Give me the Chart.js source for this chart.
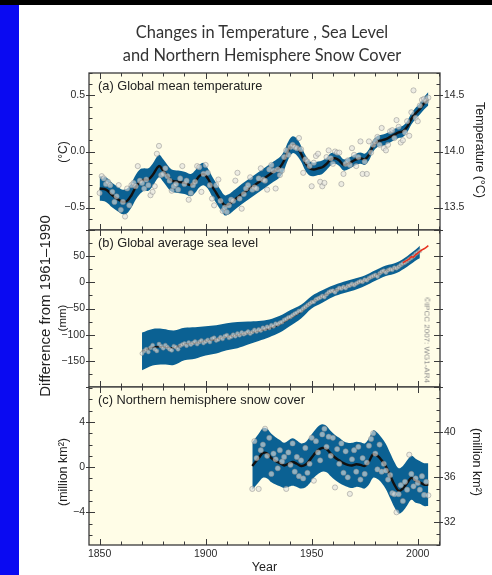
<!DOCTYPE html>
<html>
<head>
<meta charset="utf-8">
<script src="https://cdn.jsdelivr.net/npm/chart.js@4.4.0/dist/chart.umd.min.js"></script>
<style>
  html, body { margin: 0; padding: 0; background: #fff; }
  #page { position: relative; width: 492px; height: 575px; overflow: hidden; background: #fff;
          font-family: "Liberation Sans", Arial, sans-serif; color: #2a2a2a; }
  #page canvas { position: absolute; left: 0; top: 0; }
  .bar-top { position: absolute; left: 0; top: 0; width: 492px; height: 5px; background: #000; }
  .bar-side { position: absolute; left: 0; top: 5px; width: 19px; height: 570px; background: #0a0af2; }
  .title { position: absolute; left: 262px; white-space: nowrap; transform: translate(-50%, -50%);
           font-family: Lato, "Open Sans", sans-serif; font-size: 16.4px; color: #333; }
  .plabel { position: absolute; left: 98px; white-space: nowrap; transform: translateY(-50%);
            font-size: 12.8px; color: #222; }
  .rot { position: absolute; white-space: nowrap; transform: translate(-50%, -50%) rotate(-90deg); color: #222; }
  .rotcw { position: absolute; white-space: nowrap; transform: translate(-50%, -50%) rotate(90deg); color: #222; }
</style>
</head>
<body>
<div id="page">
  <div class="bar-top"></div>
  <div class="bar-side"></div>

  <canvas id="tempChart" width="492" height="575"></canvas>
  <canvas id="seaChart" width="492" height="575"></canvas>
  <canvas id="snowChart" width="492" height="575"></canvas>

  <div class="title" style="top:31px">Changes in Temperature , Sea Level</div>
  <div class="title" style="top:54px">and Northern Hemisphere Snow Cover</div>

  <div class="plabel" style="top:85px">(a) Global mean temperature</div>
  <div class="plabel" style="top:242px">(b) Global average sea level</div>
  <div class="plabel" style="top:399px">(c) Northern hemisphere snow cover</div>

  <div class="rot" style="left:44px; top:306px; font-size:15px">Difference from 1961–1990</div>
  <div class="rot" style="left:63px; top:152px; font-size:12px">(°C)</div>
  <div class="rot" style="left:62px; top:318px; font-size:11.5px">(mm)</div>
  <div class="rot" style="left:63px; top:472px; font-size:12.5px">(million km²)</div>
  <div class="rotcw" style="left:480px; top:150px; font-size:12.5px">Temperature (°C)</div>
  <div class="rotcw" style="left:477px; top:462px; font-size:12.5px">(million km²)</div>
  <div class="rotcw" style="left:427px; top:340px; font-size:8px; color:#8a8a8a">©IPCC 2007: WG1-AR4</div>
</div>

<script>
// ---------------- data ----------------
// (a) global mean temperature, annual anomalies (°C) 1850–2005
const tempStartYear = 1850;
const tempAnnual = [
  -0.37,-0.22,-0.24,-0.29,-0.27,-0.30,-0.36,-0.45,-0.40,-0.30,
  -0.52,-0.45,-0.58,-0.33,-0.48,-0.30,-0.28,-0.31,-0.13,-0.26,
  -0.28,-0.33,-0.25,-0.30,-0.39,-0.36,-0.31,-0.02,0.05,-0.21,
  -0.20,-0.15,-0.22,-0.26,-0.35,-0.31,-0.29,-0.34,-0.24,-0.13,
  -0.29,-0.26,-0.43,-0.37,-0.30,-0.27,-0.13,-0.14,-0.36,-0.20,
  -0.12,-0.19,-0.30,-0.42,-0.48,-0.30,-0.25,-0.44,-0.53,-0.50,
  -0.54,-0.48,-0.43,-0.44,-0.26,-0.19,-0.42,-0.51,-0.38,-0.33,
  -0.30,-0.23,-0.34,-0.32,-0.33,-0.24,-0.15,-0.25,-0.26,-0.34,
  -0.16,-0.12,-0.17,-0.33,-0.16,-0.21,-0.17,-0.05,0.01,-0.03,
  0.04,0.06,0.04,0.03,0.12,0.02,-0.19,-0.07,-0.09,-0.13,
  -0.31,-0.10,-0.04,-0.02,-0.27,-0.31,-0.28,-0.05,0.01,-0.06,
  -0.11,0.00,-0.01,-0.01,-0.29,-0.20,-0.11,-0.08,-0.12,0.03,
  -0.03,-0.13,-0.05,0.09,-0.20,-0.09,-0.20,0.09,-0.01,0.06,
  0.09,0.13,0.06,0.21,0.03,0.01,0.06,0.18,0.19,0.12,
  0.28,0.22,0.08,0.10,0.17,0.27,0.14,0.35,0.545,0.30,
  0.27,0.41,0.46,0.47,0.45,0.48
];
// decadal smoothed curve and its uncertainty half-width
const tempSmoothYears = [
  1850,1853,1856,1859,1861,1863,1865,1867,1869,1871,
  1873,1875,1878,1880,1882,1884,1887,1890,1893,1895,
  1897,1899,1901,1903,1905,1907,1909,1911,1913,1915,
  1917,1920,1923,1926,1929,1932,1935,1937,1939,1941,
  1943,1945,1947,1949,1951,1953,1955,1957,1959,1961,
  1963,1965,1967,1969,1971,1973,1975,1977,1979,1981,
  1983,1985,1987,1989,1991,1993,1995,1997,1999,2001,
  2003,2005
];
const tempSmooth = [
  -0.33,-0.34,-0.39,-0.43,-0.45,-0.44,-0.39,-0.32,-0.27,-0.25,
  -0.25,-0.21,-0.13,-0.17,-0.22,-0.26,-0.27,-0.28,-0.30,-0.27,
  -0.22,-0.20,-0.24,-0.31,-0.37,-0.43,-0.48,-0.47,-0.44,-0.41,
  -0.38,-0.34,-0.30,-0.26,-0.22,-0.18,-0.14,-0.08,0.01,0.06,
  0.04,-0.02,-0.10,-0.15,-0.16,-0.15,-0.14,-0.11,-0.07,-0.06,
  -0.08,-0.12,-0.11,-0.09,-0.07,-0.06,-0.07,-0.03,0.05,0.09,
  0.10,0.11,0.13,0.15,0.17,0.18,0.22,0.29,0.34,0.38,
  0.43,0.47
];
const tempSpread = [
  0.11,0.11,0.11,0.11,0.11,0.11,0.11,0.11,0.11,0.10,
  0.10,0.10,0.10,0.10,0.10,0.10,0.10,0.10,0.10,0.10,
  0.10,0.10,0.09,0.09,0.09,0.09,0.09,0.09,0.09,0.09,
  0.09,0.09,0.09,0.09,0.09,0.09,0.09,0.085,0.08,0.075,
  0.075,0.07,0.07,0.065,0.06,0.06,0.06,0.055,0.055,0.05,
  0.05,0.05,0.05,0.05,0.05,0.05,0.05,0.05,0.05,0.05,
  0.05,0.05,0.05,0.05,0.05,0.05,0.05,0.05,0.05,0.05,
  0.055,0.06
];

// (b) global average sea level, annual values (mm) 1870–2001
const seaStartYear = 1870;
const seaAnnual = [
  -136,-131,-128,-133,-125,-120,-128,-131,-118,-122,
  -126,-120,-124,-128,-130,-122,-124,-128,-121,-119,
  -117,-121,-115,-119,-116,-113,-118,-114,-111,-116,
  -113,-110,-114,-108,-106,-111,-109,-105,-108,-103,
  -101,-106,-104,-100,-103,-98,-101,-96,-99,-97,
  -94,-98,-95,-91,-94,-90,-92,-87,-89,-85,
  -87,-82,-84,-79,-80,-77,-76,-72,-70,-67,
  -66,-63,-60,-58,-55,-54,-50,-47,-44,-41,
  -38,-37,-33,-31,-29,-26,-28,-23,-19,-17,
  -16,-19,-14,-11,-12,-9,-11,-7,-6,-3,
  -5,-2,0,2,1,5,4,8,10,12,
  14,11,17,20,22,19,23,25,24,28,
  27,30,33,36,38,41,44,47,50,54,
  57,60
];
const seaSmoothYears = [1870,1875,1880,1885,1890,1895,1900,1905,1910,1915,1920,1925,1930,1935,
                        1940,1945,1950,1955,1960,1965,1970,1975,1980,1985,1990,1995,2000,2001];
const seaSmooth = [-132,-124,-123,-125,-118,-116,-112,-109,-104,-101,-97,-93,-88,-80,
                   -68,-56,-38,-27,-17,-10,-4,3,13,22,28,40,55,58];
const seaSpread = [36,35,34,33,31,30,28,27,26,25,22,19,17,16,
                   15,13,12,12,11,11,11,10,10,10,10,10,11,12];
// satellite altimetry (mm)
const satYears = [1993,1994,1995,1996,1997,1998,1999,2000,2001,2002,2003,2004,2005];
const satLevel = [37,40,42,45,49,48,53,56,59,62,64,67,70];

// (c) Northern Hemisphere snow cover anomaly (million km²) 1922–2005
const snowStartYear = 1922;
const snowAnnual = [
  -1.93,2.3,0.8,-1.93,1.5,2.0,3.4,1.0,2.6,-0.6,
  1.2,0.7,-0.1,1.5,0.5,0.9,-1.93,1.3,0.2,2.1,
  -0.4,0.9,-0.8,0.6,-1.0,1.7,-0.5,0.3,2.6,-1.2,
  2.3,1.3,0.6,2.9,3.4,1.8,2.7,1.0,2.6,-1.8,
  1.6,0.3,2.1,-0.5,1.4,-0.9,-2.37,0.7,1.5,-0.4,
  1.8,-1.1,0.8,-0.6,0.4,1.9,2.5,3.0,1.2,-0.2,
  2.0,-0.4,0.3,-0.3,-1.1,-0.7,-2.3,-2.4,-4.0,-2.4,
  -1.6,-3.0,-1.3,-2.0,1.1,-0.6,-1.7,-1.0,-1.4,-2.0,
  -0.8,-2.46,-1.3,-2.5
];
const snowSmoothYears = [1922,1925,1927,1929,1931,1933,1935,1937,1939,1941,
                         1943,1945,1947,1949,1951,1953,1955,1957,1959,1961,
                         1963,1965,1967,1969,1971,1973,1975,1977,1979,1981,
                         1983,1985,1987,1989,1991,1993,1995,1997,1999,2001,
                         2003,2005];
const snowSmooth = [0.1,0.8,1.25,1.2,0.8,0.55,0.35,0.15,0.3,0.45,
                    0.3,0.1,0.2,0.6,1.1,1.5,1.7,1.6,1.2,0.85,
                    0.6,0.35,0.2,0.15,0.25,0.2,0.1,0.5,1.15,1.0,
                    0.6,0.05,-0.75,-1.55,-2.1,-1.9,-1.4,-0.95,-1.2,-1.35,
                    -1.55,-1.55];
const snowSpread = [2.1,2.15,2.2,2.2,2.15,2.1,2.05,2.0,2.05,2.1,
                    2.05,2.0,2.0,2.05,2.05,2.1,2.1,2.05,2.0,2.0,
                    2.0,1.95,1.95,2.0,2.0,2.0,2.0,2.05,2.1,2.05,
                    2.0,2.0,2.0,2.0,2.0,2.0,2.0,1.95,1.95,1.9,
                    1.9,1.9];

// axis tick labels
const yearTicks = [1850, 1900, 1950, 2000];
const tempTicks = [-0.5, 0, 0.5];
const tempAbsTicks = [13.5, 14.0, 14.5];
const seaTicks = [-150, -100, -50, 0, 50];
const snowTicks = [-4, 0, 4];
const snowAbsTicks = [32, 36, 40];

// ---------------- styling ----------------
const BAND = '#0b6193';
const PANEL_BG = '#fffde7';
const FRAME = '#3a3a3a';
const TICK_FONT = { family: '"Liberation Sans", Arial, sans-serif', size: 10.5 };
const TICK_COLOR = '#2b2b2b';
const minus = s => String(s).replace('-', '\u2212');

// cream panel background, frame and inward tick marks on all four sides
const panelFrame = {
  id: 'panelFrame',
  beforeDraw(chart) {
    const { ctx, chartArea: a } = chart;
    ctx.save();
    ctx.fillStyle = PANEL_BG;
    ctx.fillRect(a.left, a.top, a.right - a.left, a.bottom - a.top);
    ctx.restore();
  },
  afterDraw(chart, args, o) {
    const { ctx, chartArea: a, scales } = chart;
    ctx.save();
    ctx.strokeStyle = FRAME;
    ctx.lineWidth = 1;
    const seg = (x1, y1, x2, y2) => { ctx.beginPath(); ctx.moveTo(x1, y1); ctx.lineTo(x2, y2); ctx.stroke(); };
    const steps = (min, max, step) => {
      const out = [];
      for (let v = Math.ceil(min / step - 1e-9) * step; v <= max + 1e-9; v += step) out.push(+v.toFixed(6));
      return out;
    };
    const isMajor = (v, m) => Math.abs(v / m - Math.round(v / m)) < 1e-6;
    // years along top and bottom
    const xs = scales.x;
    for (const v of steps(xs.min, xs.max, 10)) {
      const px = Math.round(xs.getPixelForValue(v)) + 0.5;
      const len = isMajor(v, 50) ? 6 : 3.5;
      seg(px, a.top, px, a.top + len);
      seg(px, a.bottom, px, a.bottom - len);
    }
    // value ticks on left and right edges
    for (const side of ['left', 'right']) {
      const spec = o[side];
      if (!spec) continue;
      const s = scales[spec.scale];
      const x0 = side === 'left' ? a.left : a.right;
      const dir = side === 'left' ? 1 : -1;
      for (const v of steps(s.min, s.max, spec.minor)) {
        const py = Math.round(s.getPixelForValue(v)) + 0.5;
        if (isMajor(v, spec.major)) seg(x0 - dir * 3, py, x0 + dir * 6, py);
        else seg(x0, py, x0 + dir * 3.5, py);
      }
    }
    ctx.lineWidth = 1.3;
    ctx.strokeRect(a.left, a.top, a.right - a.left, a.bottom - a.top);
    ctx.restore();
  }
};

function xy(xs, ys) { return xs.map((x, i) => ({ x, y: ys[i] })); }
function annualPoints(start, values) { return values.map((v, i) => ({ x: start + i, y: v })); }

function layers(start, annual, smYears, smooth, spread, pointRadius, lineWidth) {
  const lower = smooth.map((v, i) => v - spread[i]);
  const upper = smooth.map((v, i) => v + spread[i]);
  const curve = { tension: 0.35, pointRadius: 0 };
  return [
    { data: annualPoints(start, annual), showLine: false, pointRadius,
      pointBackgroundColor: 'rgba(226,226,222,0.62)', pointBorderColor: 'rgba(135,135,135,0.6)',
      pointBorderWidth: 0.8, order: 0 },
    { data: xy(smYears, smooth), borderColor: '#111', borderWidth: lineWidth, ...curve, order: 1 },
    { data: xy(smYears, lower), borderColor: 'transparent', borderWidth: 0, fill: false, ...curve, order: 2 },
    { data: xy(smYears, upper), borderColor: 'transparent', borderWidth: 0, fill: '-1',
      backgroundColor: BAND, ...curve, order: 2 }
  ];
}

function valueAxis(position, min, max, ticks, fmt, width) {
  return {
    type: 'linear', position, min, max,
    afterFit: s => { s.width = width; },
    afterBuildTicks: s => { s.ticks = ticks.map(v => ({ value: v })); },
    grid: { display: false, drawTicks: false },
    border: { display: false },
    ticks: { padding: 4, font: TICK_FONT, color: TICK_COLOR, callback: fmt }
  };
}

const yearAxisHidden = { type: 'linear', min: 1845, max: 2010.5, display: false };
const common = {
  responsive: false, animation: false, devicePixelRatio: 1,
  plugins: { legend: { display: false }, tooltip: { enabled: false } }
};

// (a) temperature
new Chart(document.getElementById('tempChart'), {
  type: 'line',
  data: { datasets: layers(tempStartYear, tempAnnual, tempSmoothYears, tempSmooth, tempSpread, 2.6, 2.4) },
  options: {
    ...common,
    layout: { padding: { top: 73, bottom: 345, left: 0, right: 0 } },
    plugins: { ...common.plugins,
      panelFrame: { left: { scale: 'y', minor: 0.1, major: 0.5 }, right: { scale: 'y2', minor: 0.1, major: 0.5 } } },
    scales: {
      x: yearAxisHidden,
      y: valueAxis('left', -0.7, 0.7, tempTicks, v => minus(v.toFixed(1)), 89),
      y2: valueAxis('right', 13.3, 14.7, tempAbsTicks, v => v.toFixed(1), 52)
    }
  },
  plugins: [panelFrame]
});

// (b) sea level
const seaSets = layers(seaStartYear, seaAnnual, seaSmoothYears, seaSmooth, seaSpread, 2.0, 1.6);
seaSets.push({ data: xy(satYears, satLevel), borderColor: '#e8311f', borderWidth: 1.6,
               pointRadius: 0, tension: 0, order: -1 });
new Chart(document.getElementById('seaChart'), {
  type: 'line',
  data: { datasets: seaSets },
  options: {
    ...common,
    layout: { padding: { top: 230, bottom: 188, left: 0, right: 52 } },
    plugins: { ...common.plugins,
      panelFrame: { left: { scale: 'y', minor: 25, major: 50 }, right: { scale: 'y', minor: 25, major: 50 } } },
    scales: {
      x: yearAxisHidden,
      y: valueAxis('left', -200, 100, seaTicks, v => minus(v), 89)
    }
  },
  plugins: [panelFrame]
});

// (c) snow cover
new Chart(document.getElementById('snowChart'), {
  type: 'line',
  data: { datasets: layers(snowStartYear, snowAnnual, snowSmoothYears, snowSmooth, snowSpread, 2.6, 2.4) },
  options: {
    ...common,
    layout: { padding: { top: 387, bottom: 0, left: 0, right: 0 } },
    plugins: { ...common.plugins,
      panelFrame: { left: { scale: 'y', minor: 1, major: 4 }, right: { scale: 'y2', minor: 1, major: 4 } } },
    scales: {
      x: {
        type: 'linear', min: 1845, max: 2010.5, position: 'bottom',
        afterFit: s => { s.height = 30; },
        afterBuildTicks: s => { s.ticks = yearTicks.map(v => ({ value: v })); },
        grid: { display: false, drawTicks: false },
        border: { display: false },
        ticks: { padding: 3, font: TICK_FONT, color: TICK_COLOR, callback: v => String(v), maxRotation: 0 },
        title: { display: true, text: 'Year', color: '#222',
                 font: { family: '"Liberation Sans", Arial, sans-serif', size: 12.5 },
                 padding: { top: 0, bottom: 0 } }
      },
      y: valueAxis('left', -6.9, 7.1, snowTicks, v => minus(v), 89),
      y2: valueAxis('right', 30, 44, snowAbsTicks, v => String(v), 52)
    }
  },
  plugins: [panelFrame]
});
</script>
</body>
</html>
